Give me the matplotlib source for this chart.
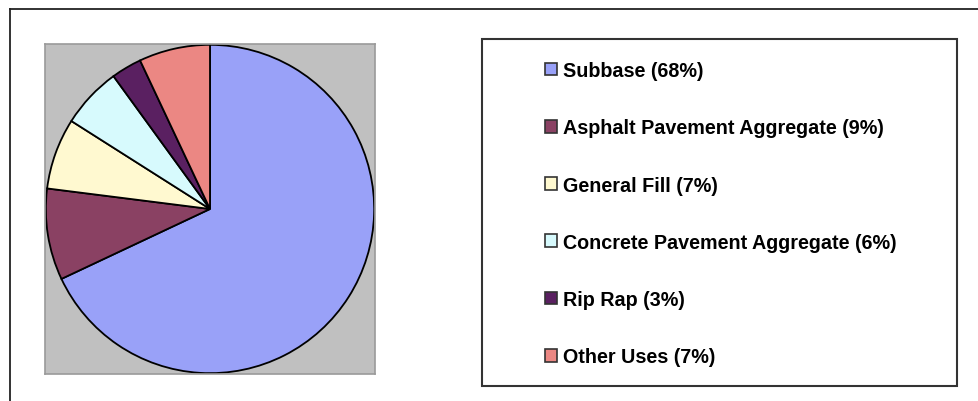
import matplotlib.pyplot as plt
from matplotlib.lines import Line2D
from matplotlib.patches import Rectangle

## data
categories = ["Subbase", "Asphalt Pavement Aggregate", "General Fill",
              "Concrete Pavement Aggregate", "Rip Rap", "Other Uses"]
shares = [68, 9, 7, 6, 3, 7]
colors = ["#99A1F8", "#8A4163", "#FFF9D0", "#D7FAFD", "#5A2061", "#EB8783"]

plt.rcParams['font.family'] = ['Liberation Sans', 'DejaVu Sans']

W, H = 979, 402
fig = plt.figure(figsize=(W / 100, H / 100), dpi=100)

def px(x0, y0, x1, y1):
    # pixel box (top-left origin) -> figure fraction rect
    return [x0 / W, 1 - y1 / H, (x1 - x0) / W, (y1 - y0) / H]

# outer frame: top and left edges only
fig.add_artist(Line2D([10 / W, 1], [1 - 10 / H, 1 - 10 / H], color="#222222", lw=1.3))
fig.add_artist(Line2D([10 / W, 10 / W], [0, 1 - 10 / H], color="#222222", lw=1.3))

# gray plot area with the pie
ax = fig.add_axes(px(45, 45, 375, 375))
wedges, _ = ax.pie(shares, colors=colors, startangle=90, counterclock=False,
                   radius=0.995, wedgeprops=dict(edgecolor="black", linewidth=1.3))
ax.set_frame_on(True)
ax.set_facecolor("#C0C0C0")
for s in ax.spines.values():
    s.set_color("#9a9a9a")
    s.set_linewidth(1.2)
ax.set_xlim(-1.0, 1.0)
ax.set_ylim(-1.0, 1.0)
ax.set_aspect("auto")
ax.set_xticks([])
ax.set_yticks([])

# legend box
r = px(482, 40, 957, 387)
fig.add_artist(Rectangle((r[0], r[1]), r[2], r[3], transform=fig.transFigure,
                         fill=False, edgecolor="#333333", lw=1.5))

labels = [f"{c} ({v}%)" for c, v in zip(categories, shares)]
handles = [Rectangle((0, 0), 1, 1, facecolor=c, edgecolor="#333333", lw=1.2) for c in colors]
fig.legend(handles, labels, loc="upper left", bbox_to_anchor=(545 / W, 1 - 62 / H),
           frameon=False, prop=dict(weight="bold", size=14.2),
           handlelength=0.62, handleheight=0.62, handletextpad=0.31,
           labelspacing=1.94, borderpad=0, borderaxespad=0)

fig.savefig("out.png", dpi=100)
